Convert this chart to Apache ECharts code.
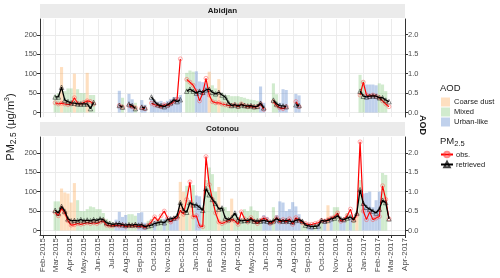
<!DOCTYPE html>
<html><head><meta charset="utf-8">
<script src="https://cdn.jsdelivr.net/npm/echarts@6/dist/echarts.min.js"></script>
<style>html,body{margin:0;padding:0;background:#fff}#c{width:500px;height:278px}</style>
</head><body><div id="c"></div>
<script>
// weekly observation dates (shared by both cities)
const dates = [
'2015-02-28','2015-03-07','2015-03-14','2015-03-21','2015-03-28','2015-04-04','2015-04-11','2015-04-18','2015-04-25','2015-05-02',
'2015-05-09','2015-05-16','2015-05-23','2015-05-30','2015-06-06','2015-06-13','2015-06-20','2015-06-27','2015-07-04','2015-07-11',
'2015-07-18','2015-07-25','2015-08-01','2015-08-08','2015-08-15','2015-08-22','2015-08-29','2015-09-05','2015-09-12','2015-09-19',
'2015-09-26','2015-10-03','2015-10-10','2015-10-17','2015-10-24','2015-10-31','2015-11-07','2015-11-14','2015-11-21','2015-11-28',
'2015-12-05','2015-12-12','2015-12-19','2015-12-26','2016-01-02','2016-01-09','2016-01-16','2016-01-23','2016-01-30','2016-02-06',
'2016-02-13','2016-02-20','2016-02-27','2016-03-05','2016-03-12','2016-03-19','2016-03-26','2016-04-02','2016-04-09','2016-04-16',
'2016-04-23','2016-04-30','2016-05-07','2016-05-14','2016-05-21','2016-05-28','2016-06-04','2016-06-11','2016-06-18','2016-06-25',
'2016-07-02','2016-07-09','2016-07-16','2016-07-23','2016-07-30','2016-08-06','2016-08-13','2016-08-20','2016-08-27','2016-09-03',
'2016-09-10','2016-09-17','2016-09-24','2016-10-01','2016-10-08','2016-10-15','2016-10-22','2016-10-29','2016-11-05','2016-11-12',
'2016-11-19','2016-11-26','2016-12-03','2016-12-10','2016-12-17','2016-12-24','2016-12-31','2017-01-07','2017-01-14','2017-01-21',
'2017-01-28','2017-02-04','2017-02-11','2017-02-18','2017-02-25'];

const monthTicks = ['2015-02-01','2015-03-01','2015-04-01','2015-05-01','2015-06-01','2015-07-01','2015-08-01','2015-09-01','2015-10-01',
'2015-11-01','2015-12-01','2016-01-01','2016-02-01','2016-03-01','2016-04-01','2016-05-01','2016-06-01','2016-07-01','2016-08-01',
'2016-09-01','2016-10-01','2016-11-01','2016-12-01','2017-01-01','2017-02-01','2017-03-01','2017-04-01'];
const pmTicks = [0, 50, 100, 150, 200];
const aodTicks = [0, 0.5, 1, 1.5, 2];
const panels = ['Abidjan', 'Cotonou'];
const aodTypes = ['Coarse dust', 'Mixed', 'Urban-like'];

const N = null;
// Abidjan
const abidjanObs = [25,22,24,22,20,22,38,24,22,26,30,28,22, N,N,N,N,N,N,N, 18,14, N, 18,15,12, N, 12,10, N,
 24,20,18,15,20,18,22,28,35,138, N,
 85,78,70,55,30,50,88,45,28,25,25,22,20,18,18,20,15,22,18,15,16,14,15,22,8, N,N,
 28,18,12,10,15, N,N, 28,15, N,N,N,N,N,N,N,N,N,N,N,N,N,N,N,N,N,N,
 45,78,45,42,45,42,38,30,22,15];
const abidjanRet = [40,40,65,32,28,25,24,22,22,22,22,10,26, N,N,N,N,N,N,N, 18,14, N, 22,18,10, N, 14,12, N,
 40,28,20,18,15,20,25,33,28,33, N,
 55,60,55,50,55,52,58,60,52,48,52,45,40,25,18,20,17,20,18,17,18,15,16,24,12, N,N,
 32,22,18,17,15, N,N, 20,18, N,N,N,N,N,N,N,N,N,N,N,N,N,N,N,N,N,N,
 55,42,40,42,43,42,38,38,32,28];
const abidjanAod = [.45,.5,1.17,.55,.62,.62,1.0,.6,.5,.5,1.02,.45,.45, N,N,N,N,N,N,N, .56,.38, N, .48,.34,.25, N, .32,.2, N,
 .35,.3,.28,.3,.25,.3,.35,.4,.4,.45, N,
 1.02,1.08,1.05,1.06,.8,.78,.75,1.05,.7,.62,.86,.5,.45,.45,.42,.42,.42,.4,.38,.35,.33,.32,.3,.67,.25, N,N,
 .75,.47,.25,.6,.58, N,N, .48,.44, N,N,N,N,N,N,N,N,N,N,N,N,N,N,N,N,N,N,
 .97,.82,.72,.72,.72,.7,.75,.72,.55, N];
const abidjanType = ['M','M','C','M','M','M','C','M','M','M','C','M','M', N,N,N,N,N,N,N, 'U','M', N, 'U','U','M', N, 'U','U', N,
 'U','U','U','U','U','U','U','U','U','U', N,
 'M','M','M','U','U','U','U','C','M','M','C','M','M','M','M','M','M','M','M','M','M','M','M','U','U', N,N,
 'M','M','U','U','U', N,N, 'U','U', N,N,N,N,N,N,N,N,N,N,N,N,N,N,N,N,N,N,
 'M','M','U','U','U','U','M','M','M', N];
// Cotonou
const cotonouObs = [47,38,57,45,25,14,15,18,16,18,20,18,20,18,22,25,14,12,12,14,12,14,10,12,12,12,10,12,8,14,
 22,35,25,38,50,32,22,30,32,52,42,80,125,35,38,12,10,190,118,80,45,22,18,22,25,28,25,16,48,30,
 22,33,24,18,26,32,28,18,22,33,22,28,22,30,16,33,26,20,18,15,16,18,20,26,24,28,32,35,45,24,
 28,38,55,26,40,228,50,28,48,28,32,36,115,80,30];
const cotonouRet = [52,45,62,50,30,25,26,25,28,25,27,25,28,26,30,28,20,18,16,17,18,15,14,15,14,16,14,15,10,12,
 14,18,20,22,20,28,30,32,38,72,52,47,72,66,66,60,52,108,92,80,70,55,58,32,28,33,45,28,25,26,
 26,28,24,25,24,26,24,22,25,30,26,24,26,24,22,26,28,24,14,12,10,11,12,26,24,26,30,32,38,30,
 28,32,35,28,45,105,70,60,55,50,45,55,78,72,30];
const cotonouAod = [.75,.75,1.08,.98,.95,.72,1.22,.78,.5,.5,.55,.62,.6,.55,.55,.45,.3,.25,.2,.28,.48,.35,.4,.42,.42,.38,.45,.47,.2,.25,
 .3,.25,.3,.3,.3,.3,.35,.3,.35,1.25,1.0,1.15,.75,1.17,.9,.88,.6,1.3,1.62,1.45,1.0,1.12,.6,.6,.5,.82,.45,.35,.3,.55,
 .5,.62,.52,.5,.3,.4,.35,.25,.6,.4,.75,.72,.5,.55,.73,.62,.42,.25,.2,.15,.12,.15,.18,.2,.22,.65,.3,.6,.6,.3,
 .25,.45,.35,.3,.35,1.3,.95,.97,1.0,.6,.78,1.0,1.48,1.43, N];
const cotonouType = ['M','M','C','C','C','C','C','M','M','M','M','M','M','M','M','M','M','M','M','U','U','U','U','M','M','M','U','U','U','M',
 'M','U','M','M','U','M','U','U','U','C','C','M','C','M','U','U','M','M','M','M','M','C','M','M','M','C','M','M','M','M',
 'M','M','M','M','M','U','U','U','M','U','U','U','U','U','U','U','U','M','M','U','U','M','U','M','U','C','U','M','M','U',
 'U','M','U','M','C','M','U','U','U','U','U','U','M','M', N];

const cityData = [
  {obs: abidjanObs, ret: abidjanRet, aod: abidjanAod, type: abidjanType},
  {obs: cotonouObs, ret: cotonouRet, aod: cotonouAod, type: cotonouType}
];

const FONT = '"Liberation Sans", Arial, Helvetica, sans-serif';
const MONTHS = ['Jan','Feb','Mar','Apr','May','Jun','Jul','Aug','Sep','Oct','Nov','Dec'];
const typeCode = {'Coarse dust': 'C', 'Mixed': 'M', 'Urban-like': 'U'};
const typeColor = {'Coarse dust': 'rgba(252,170,90,0.38)', 'Mixed': 'rgba(120,196,110,0.34)', 'Urban-like': 'rgba(70,120,200,0.34)'};
function ts(s) { const p = s.split('-').map(Number); return Date.UTC(p[0], p[1] - 1, p[2]); }
const dateTs = dates.map(ts);
const monthTs = monthTicks.map(ts);

const GL = 40, GW = 365, GH = 98, tops = [19, 137];

const grids = tops.map(t => ({left: GL, top: t, width: GW, height: GH, containLabel: false}));
const xAxes = tops.map((t, gi) => ({
  type: 'value', gridIndex: gi, min: ts('2015-01-26'), max: ts('2017-04-01'),
  axisLine: {show: gi === 1, onZero: false, lineStyle: {color: '#333', width: 1}},
  axisTick: {show: gi === 1, customValues: monthTs, length: 3, lineStyle: {color: '#333'}},
  axisLabel: {show: gi === 1, customValues: monthTs, rotate: 90, fontSize: 8, color: '#4d4d4d',
    fontFamily: FONT, margin: 3, hideOverlap: false,
    formatter: v => { const d = new Date(v); return MONTHS[d.getUTCMonth()] + '-' + d.getUTCFullYear(); }},
  splitLine: {show: true, lineStyle: {color: '#ebebeb', width: 1}}
}));
const yAxes = [];
tops.forEach((t, gi) => {
  yAxes.push({type: 'value', gridIndex: gi, position: 'left', min: -11.5, max: 240.5,
    axisLine: {show: true, onZero: false, lineStyle: {color: '#333', width: 1}},
    axisTick: {show: true, customValues: pmTicks, length: 3, lineStyle: {color: '#333'}},
    axisLabel: {customValues: pmTicks, fontSize: 7.5, color: '#4d4d4d', fontFamily: FONT, margin: 3},
    splitLine: {show: true, lineStyle: {color: '#ebebeb', width: 1}}});
  yAxes.push({type: 'value', gridIndex: gi, position: 'right', min: -0.115, max: 2.405,
    axisLine: {show: true, onZero: false, lineStyle: {color: '#333', width: 1}},
    axisTick: {show: true, customValues: aodTicks, length: 3, lineStyle: {color: '#333'}},
    axisLabel: {customValues: aodTicks, fontSize: 7.5, color: '#4d4d4d', fontFamily: FONT, margin: 3,
      formatter: v => Number(v).toFixed(1)},
    splitLine: {show: false}});
});

const series = [];
cityData.forEach((c, gi) => {
  aodTypes.forEach(tn => {
    series.push({
      name: tn, type: 'bar', xAxisIndex: gi, yAxisIndex: gi * 2 + 1,
      barWidth: 3.1, barGap: '-100%', z: 1,
      itemStyle: {color: typeColor[tn]},
      data: dateTs.map((d, i) => [d, c.type[i] === typeCode[tn] ? c.aod[i] : null])
    });
  });
  series.push({
    name: 'obs.', type: 'line', xAxisIndex: gi, yAxisIndex: gi * 2, z: 3,
    symbol: 'circle', symbolSize: 4, showAllSymbol: true, connectNulls: false,
    lineStyle: {color: '#ff0000', width: 1.2},
    itemStyle: {color: 'rgba(255,0,0,0)', borderColor: 'rgba(255,60,60,0.6)', borderWidth: 0.7},
    data: dateTs.map((d, i) => [d, c.obs[i]])
  });
  series.push({
    name: 'retrieved', type: 'line', xAxisIndex: gi, yAxisIndex: gi * 2, z: 4,
    symbol: 'triangle', symbolSize: 4.5, showAllSymbol: true, connectNulls: false,
    lineStyle: {color: '#000000', width: 1.3},
    itemStyle: {color: 'rgba(0,0,0,0)', borderColor: 'rgba(0,0,0,0.75)', borderWidth: 0.6},
    data: dateTs.map((d, i) => [d, c.ret[i]])
  });
});

const graphics = [];
tops.forEach((t, gi) => {
  graphics.push({type: 'rect', shape: {x: GL, y: t - 15, width: GW, height: 14}, style: {fill: '#ebebeb'}, silent: true});
  graphics.push({type: 'text', x: GL + GW / 2, y: t - 8, style: {text: panels[gi], fontSize: 8, fontWeight: 'bold',
    fontFamily: FONT, fill: '#1a1a1a', align: 'center', verticalAlign: 'middle'}});
});
graphics.push({type: 'text', x: 11, y: 127, rotation: Math.PI / 2, style: {
  text: '{a|PM}{s|2.5}{a| (μg/m}{p|3}{a|)}', align: 'center', verticalAlign: 'middle',
  rich: {a: {fontSize: 11, fontFamily: FONT, fill: '#1a1a1a', lineHeight: 15},
         s: {fontSize: 8.5, fontFamily: FONT, fill: '#1a1a1a', lineHeight: 15, verticalAlign: 'bottom'},
         p: {fontSize: 7, fontFamily: FONT, fill: '#1a1a1a', lineHeight: 15, verticalAlign: 'top'}}}});
graphics.push({type: 'text', x: 422, y: 125, rotation: -Math.PI / 2, style: {text: 'AOD', fontSize: 9,
  fontWeight: 'bold', fontFamily: FONT, fill: '#1a1a1a', align: 'center', verticalAlign: 'middle'}});
graphics.push({type: 'text', x: 440, y: 88, style: {text: 'AOD', fontSize: 9.5, fontFamily: FONT, fill: '#1a1a1a',
  align: 'left', verticalAlign: 'middle'}});
graphics.push({type: 'text', x: 440, y: 141, style: {text: '{a|PM}{s|2.5}', align: 'left', verticalAlign: 'middle',
  rich: {a: {fontSize: 9.5, fontFamily: FONT, fill: '#1a1a1a', lineHeight: 13},
         s: {fontSize: 7.5, fontFamily: FONT, fill: '#1a1a1a', lineHeight: 13, verticalAlign: 'bottom'}}}});

const option = {
  animation: false,
  backgroundColor: '#fff',
  grid: grids, xAxis: xAxes, yAxis: yAxes, series: series,
  legend: [
    {data: aodTypes, orient: 'vertical', left: 441, top: 97.5, padding: 0, itemWidth: 9, itemHeight: 9, itemGap: 1,
     icon: 'rect', selectedMode: false, textStyle: {fontSize: 7.5, color: '#1a1a1a', fontFamily: FONT, padding: [0, 0, 0, -1]}},
    {data: ['obs.', 'retrieved'], orient: 'vertical', left: 440, top: 150.5, padding: 0, itemWidth: 12, itemHeight: 7,
     itemGap: 2, selectedMode: false, textStyle: {fontSize: 7.5, color: '#1a1a1a', fontFamily: FONT, padding: [0, 0, 0, -2]}}
  ],
  graphic: graphics
};
const chart = echarts.init(document.getElementById('c'));
chart.setOption(option);
</script>
</body></html>
